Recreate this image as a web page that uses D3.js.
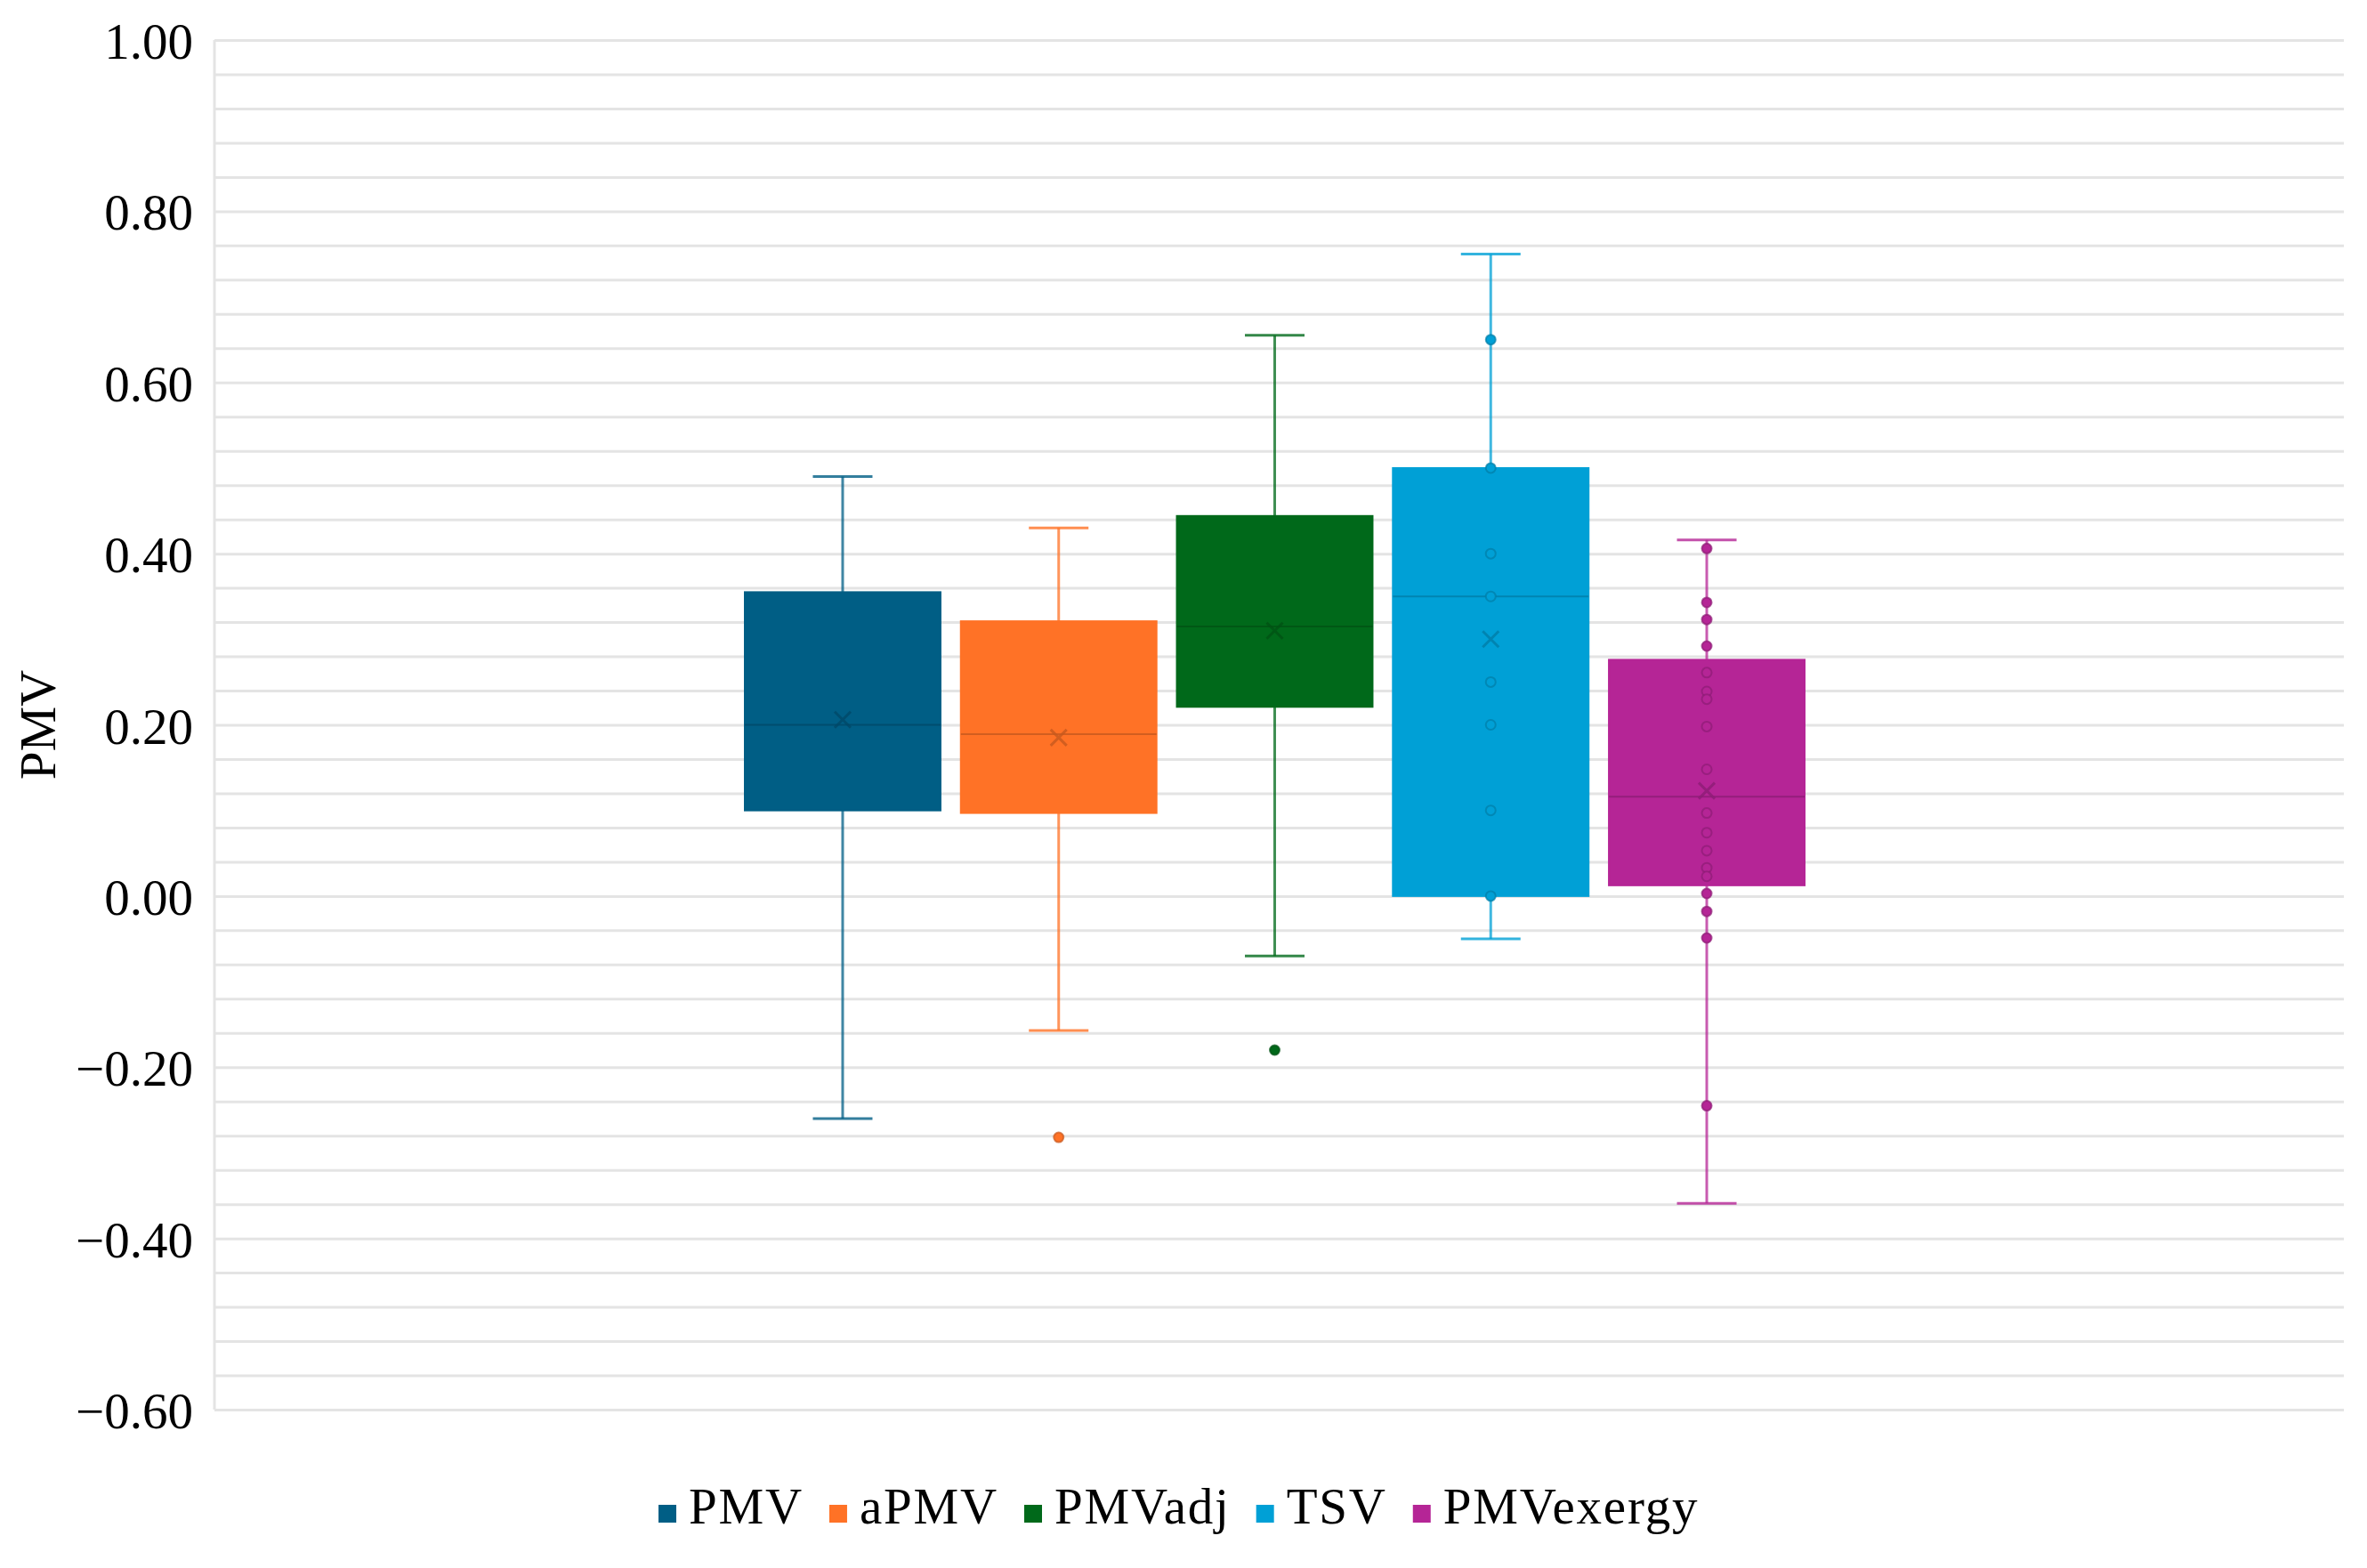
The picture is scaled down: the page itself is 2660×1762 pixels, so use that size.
<!DOCTYPE html>
<html>
<head>
<meta charset="utf-8">
<script src="https://cdn.jsdelivr.net/npm/d3@7"></script>
<style>
  body { margin: 0; background: #fff; }
  svg { display: block; }
  text { font-family: "Liberation Serif", "Times New Roman", serif; fill: #000; }
</style>
</head>
<body>
<script>
let WIDTH = 2660,
    HEIGHT = 1762,
    MARGIN = {top: 45, right: 26, bottom: 178, left: 241},
    FONT_SIZE = 57

// data
const series = ["PMV", "aPMV", "PMVadj", "TSV", "PMVexergy"]
const colors = ["#005E85", "#FF7226", "#00691A", "#00A0D6", "#B52596"]
const whiskerLow  = [-0.26, -0.157, -0.07, -0.05, -0.359]
const q1          = [0.10, 0.097, 0.221, 0.00, 0.0125]
const median      = [0.20, 0.189, 0.315, 0.35, 0.116]
const q3          = [0.355, 0.321, 0.444, 0.50, 0.276]
const whiskerHigh = [0.49, 0.43, 0.655, 0.75, 0.416]
const mean        = [0.206, 0.185, 0.31, 0.30, 0.123]
const pmvPoints = []
const apmvPoints = [-0.282]
const pmvadjPoints = [-0.18]
const tsvPoints = [0.65, 0.50, 0.40, 0.35, 0.25, 0.20, 0.10, 0.00]
const exergyPoints = [0.406, 0.343, 0.323, 0.292, 0.261, 0.239, 0.230, 0.198, 0.148,
                      0.097, 0.074, 0.053, 0.033, 0.023, 0.003, -0.018, -0.049, -0.245]
const pointSets = [pmvPoints, apmvPoints, pmvadjPoints, tsvPoints, exergyPoints]
const majorTicks = [-0.6, -0.4, -0.2, 0, 0.2, 0.4, 0.6, 0.8, 1.0]
const yTitle = "PMV"

let plotW = WIDTH - MARGIN.left - MARGIN.right,
    plotH = HEIGHT - MARGIN.top - MARGIN.bottom

let svg = d3.select("body").append("svg")
    .attr("width", WIDTH)
    .attr("height", HEIGHT)

let g = svg.append("g")
    .attr("transform", "translate(" + MARGIN.left + "," + MARGIN.top + ")")

//Scales
let y = d3.scaleLinear().domain([-0.6, 1.0]).range([plotH, 0])
// boxes sit in one category, roughly centred in the plot
let groupW = 1191, groupShift = -5
let x = d3.scaleBand()
    .domain(series)
    .range([(plotW - groupW) / 2 + groupShift, (plotW + groupW) / 2 + groupShift])
    .paddingInner(0.094)
    .paddingOuter(0)

//Gridlines every 0.04
let minorTicks = d3.range(0, 41).map(i => +(-0.6 + i * 0.04).toFixed(2))
g.append("g")
    .attr("class", "grid")
    .call(d3.axisLeft(y).tickValues(minorTicks).tickSize(-plotW).tickFormat(""))
    .call(s => s.select(".domain").remove())
    .selectAll("line")
    .attr("stroke", "#e4e4e4")
    .attr("stroke-width", 3)

g.append("line")
    .attr("x1", 0).attr("x2", 0)
    .attr("y1", 0).attr("y2", plotH)
    .attr("stroke", "#e4e4e4")
    .attr("stroke-width", 3)

//Y axis labels
g.append("g")
    .attr("class", "y axis")
    .call(d3.axisLeft(y).tickValues(majorTicks).tickSize(0).tickPadding(24).tickFormat(d3.format(".2f")))
    .call(s => s.select(".domain").remove())
    .selectAll("text")
    .attr("font-size", FONT_SIZE)
    .attr("font-family", "'Liberation Serif', serif")
    .attr("fill", "#000")
    .attr("dy", "0.36em")

svg.append("text")
    .attr("transform", "translate(62," + (MARGIN.top + plotH / 2) + ") rotate(-90)")
    .attr("text-anchor", "middle")
    .attr("font-size", FONT_SIZE)
    .text(yTitle)

//Boxes
let bw = x.bandwidth()
let capW = 67
series.forEach(function(name, i) {
  let c = colors[i],
      dark = d3.color(c).darker(0.7).formatHex(),
      cx = x(name) + bw / 2,
      box = g.append("g").attr("class", "box")

  // whiskers
  box.append("line")
      .attr("x1", cx).attr("x2", cx)
      .attr("y1", y(q3[i])).attr("y2", y(whiskerHigh[i]))
      .attr("stroke", c).attr("stroke-width", 3).attr("stroke-opacity", 0.75)
  box.append("line")
      .attr("x1", cx).attr("x2", cx)
      .attr("y1", y(q1[i])).attr("y2", y(whiskerLow[i]))
      .attr("stroke", c).attr("stroke-width", 3).attr("stroke-opacity", 0.75)
  ;[whiskerHigh[i], whiskerLow[i]].forEach(function(v) {
    box.append("line")
        .attr("x1", cx - capW / 2).attr("x2", cx + capW / 2)
        .attr("y1", y(v)).attr("y2", y(v))
        .attr("stroke", c).attr("stroke-width", 3).attr("stroke-opacity", 0.8)
  })

  box.append("rect")
      .attr("x", x(name))
      .attr("y", y(q3[i]))
      .attr("width", bw)
      .attr("height", y(q1[i]) - y(q3[i]))
      .attr("fill", c)
      .attr("stroke", c)
      .attr("stroke-width", 2)

  box.append("line")
      .attr("x1", x(name)).attr("x2", x(name) + bw)
      .attr("y1", y(median[i])).attr("y2", y(median[i]))
      .attr("stroke", dark).attr("stroke-width", 2).attr("stroke-opacity", 0.8)

  // points
  box.selectAll(".point")
      .data(pointSets[i])
      .enter().append("circle")
      .attr("class", "point")
      .attr("cx", cx)
      .attr("cy", d => y(d))
      .attr("r", 5.5)
      .attr("fill", c)
      .attr("stroke", dark)
      .attr("stroke-width", 2)
      .attr("stroke-opacity", 0.7)

  // mean marker
  let m = 9, my = y(mean[i])
  box.append("path")
      .attr("d", "M" + (cx - m) + "," + (my - m) + "L" + (cx + m) + "," + (my + m) +
                 "M" + (cx - m) + "," + (my + m) + "L" + (cx + m) + "," + (my - m))
      .attr("stroke", dark).attr("stroke-width", 3).attr("stroke-opacity", 0.8)
      .attr("fill", "none")
})

//Legend
let legend = svg.append("g").attr("class", "legend")
let items = legend.selectAll("g")
    .data(series)
    .enter().append("g")
items.append("rect")
    .attr("width", 20).attr("height", 20)
    .attr("y", -21)
    .attr("fill", (d, i) => colors[i])
items.append("text")
    .attr("x", 34)
    .attr("font-size", FONT_SIZE)
    .attr("letter-spacing", 1.8)
    .text(d => d)
let pos = 0
items.each(function() {
  let w = 34 + this.querySelector("text").getComputedTextLength()
  d3.select(this).attr("transform", "translate(" + pos + ",0)")
  pos += w + 29
})
legend.attr("transform", "translate(740,1712)")
</script>
</body>
</html>
